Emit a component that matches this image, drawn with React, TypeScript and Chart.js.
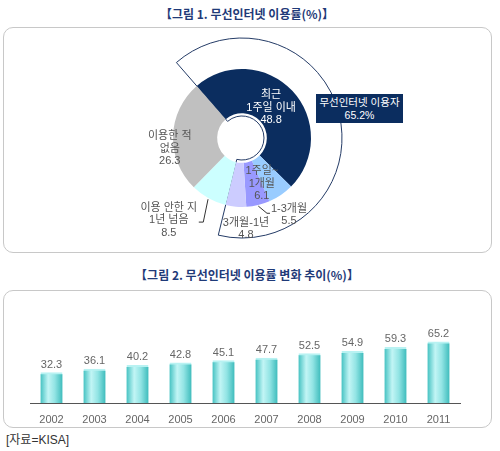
import { useEffect, useRef } from 'react';
import { Chart, registerables } from 'chart.js';

Chart.register(...registerables);

// figure 1: wireless internet usage share (%)
const usageLabels = [
  ['최근', '1주일 이내'],
  ['1주일~', '1개월'],
  ['1-3개월'],
  ['3개월-1년'],
  ['이용 안한 지', '1년 넘음'],
  ['이용한 적', '없음'],
];
const usageValues = [48.8, 6.1, 5.5, 4.8, 8.5, 26.3];
const usageColors = ['#0b2d5f', '#99ccff', '#9999ff', '#ccccff', '#ccffff', '#c0c0c0'];
const userSliceCount = 4; // first four slices = wireless internet users

// figure 2: usage rate by year (%)
const years = ['2002', '2003', '2004', '2005', '2006', '2007', '2008', '2009', '2010', '2011'];
const rates = [32.3, 36.1, 40.2, 42.8, 45.1, 47.7, 52.5, 54.9, 59.3, 65.2];

const usersTotal = usageValues.slice(0, userSliceCount).reduce((a, b) => a + b, 0);

const FONT = '"Liberation Sans", "Noto Sans CJK KR", sans-serif';
const KFONT = '"Noto Sans CJK KR", sans-serif';

// label placement: radius from centre, angle shift (deg) from slice middle, optional leader
const labelPlace: { r: number; da: number; leader?: number[][] }[] = [
  { r: 42, da: -3 },
  { r: 50, da: 11 },
  { r: 90, da: -18, leader: [[-22, -1.5], [-19, -1.5]] },
  { r: 91, da: -7.6 },
  { r: 110, da: 12.7, leader: [[34.5, 2], [30, 2]] },
  { r: 73, da: -10 },
];

const sliceText = {
  id: 'sliceText',
  afterDatasetsDraw(chart: any) {
    const { ctx } = chart;
    const arcs = chart.getDatasetMeta(0).data;
    ctx.save();
    ctx.font = `11px ${FONT}`;
    ctx.textAlign = 'center';
    ctx.textBaseline = 'middle';
    arcs.forEach((arc: any, i: number) => {
      const { x, y, startAngle, endAngle, outerRadius } = arc.getProps(
        ['x', 'y', 'startAngle', 'endAngle', 'outerRadius'],
        true
      );
      const p = labelPlace[i];
      const mid = (startAngle + endAngle) / 2;
      const a = mid + (p.da * Math.PI) / 180;
      const cx = x + p.r * Math.cos(a);
      const cy = y + p.r * Math.sin(a);
      const lines = [...usageLabels[i], usageValues[i].toFixed(1)];
      ctx.fillStyle = i === 0 ? '#ffffff' : '#555555';
      lines.forEach((t, k) => ctx.fillText(t, cx, cy + (k - (lines.length - 1) / 2) * 12.5));
      if (p.leader) {
        ctx.beginPath();
        ctx.moveTo(x + (outerRadius + 1) * Math.cos(mid), y + (outerRadius + 1) * Math.sin(mid));
        p.leader.forEach(([dx, dy]) => ctx.lineTo(cx + dx, cy + dy));
        ctx.strokeStyle = '#333333';
        ctx.lineWidth = 1;
        ctx.stroke();
      }
    });
    ctx.restore();
  },
};

const barValues = {
  id: 'barValues',
  afterDatasetsDraw(chart: any) {
    const { ctx } = chart;
    ctx.save();
    ctx.font = `11px ${FONT}`;
    ctx.fillStyle = '#666666';
    ctx.textAlign = 'center';
    ctx.textBaseline = 'middle';
    chart.getDatasetMeta(0).data.forEach((bar: any, i: number) => {
      ctx.fillText(rates[i].toFixed(1), bar.x, bar.y - 8);
    });
    ctx.restore();
  },
};

const BAR_W = 22;

function barFill(context: any) {
  const chart = context.chart;
  const xScale = chart.scales && chart.scales.x;
  if (!xScale || context.dataIndex === undefined) return '#7fdcdc';
  const xc = xScale.getPixelForValue(context.dataIndex);
  if (!Number.isFinite(xc)) return '#7fdcdc';
  const g = chart.ctx.createLinearGradient(xc - BAR_W / 2, 0, xc + BAR_W / 2, 0);
  g.addColorStop(0, '#45c2c2');
  g.addColorStop(0.35, '#c2f5f5');
  g.addColorStop(0.65, '#92e4e4');
  g.addColorStop(1, '#3ebcbc');
  return g;
}

function UsageDonut() {
  const backRef = useRef<HTMLCanvasElement>(null);
  const frontRef = useRef<HTMLCanvasElement>(null);

  useEffect(() => {
    if (!backRef.current || !frontRef.current) return;
    const back = new Chart(backRef.current, {
      type: 'doughnut',
      data: {
        labels: ['users', 'others'],
        datasets: [
          {
            data: [usersTotal, 100 - usersTotal],
            backgroundColor: ['#ffffff', 'rgba(0,0,0,0)'],
            borderColor: ['#243b66', 'rgba(0,0,0,0)'],
            borderWidth: 1,
          },
        ],
      },
      options: {
        animation: false,
        responsive: false,
        events: [],
        rotation: -41,
        radius: 100,
        cutout: '22%',
        plugins: { legend: { display: false }, tooltip: { enabled: false } },
      },
    });
    const front = new Chart(frontRef.current, {
      type: 'doughnut',
      data: {
        labels: usageLabels.map((l) => l.join(' ')),
        datasets: [{ data: usageValues, backgroundColor: usageColors, borderWidth: 0 }],
      },
      options: {
        animation: false,
        responsive: false,
        events: [],
        rotation: -41,
        radius: 69,
        cutout: '36%',
        plugins: { legend: { display: false }, tooltip: { enabled: false } },
      },
      plugins: [sliceText],
    });
    return () => {
      back.destroy();
      front.destroy();
    };
  }, []);

  const pos = { position: 'absolute' as const, left: 2, top: 28, width: 480, height: 220 };
  return (
    <>
      <canvas ref={backRef} width={480} height={220} style={pos} />
      <canvas ref={frontRef} width={480} height={220} style={pos} />
      <div
        style={{
          position: 'absolute',
          left: 316,
          top: 94,
          width: 87,
          height: 29,
          background: '#0b2d5f',
          color: '#ffffff',
          fontFamily: FONT,
          fontSize: 10.5,
          lineHeight: '12.5px',
          textAlign: 'center',
          paddingTop: 2,
          boxSizing: 'border-box',
        }}
      >
        무선인터넷 이용자
        <br />
        {usersTotal.toFixed(1)}%
      </div>
    </>
  );
}

function TrendBars() {
  const ref = useRef<HTMLCanvasElement>(null);

  useEffect(() => {
    if (!ref.current) return;
    const chart = new Chart(ref.current, {
      type: 'bar',
      data: {
        labels: years,
        datasets: [
          {
            data: rates,
            backgroundColor: barFill,
            borderColor: '#b8f2f2',
            borderWidth: { top: 2, left: 0, right: 0, bottom: 0 },
            barThickness: BAR_W,
          },
        ],
      },
      options: {
        animation: false,
        responsive: false,
        events: [],
        layout: { padding: { left: 30, right: 30, top: 14, bottom: 0 } },
        plugins: { legend: { display: false }, tooltip: { enabled: false } },
        scales: {
          x: {
            grid: { display: false, drawTicks: false },
            border: { display: true, color: '#555555', width: 1 },
            ticks: { padding: 10, color: '#666666', font: { size: 11, family: FONT } },
            afterFit: (s: any) => {
              s.height = 24;
            },
          },
          y: { display: false, min: 0, max: 100 },
        },
      },
      plugins: [barValues],
    });
    return () => chart.destroy();
  }, []);

  return (
    <canvas
      ref={ref}
      width={490}
      height={132}
      style={{ position: 'absolute', left: 0, top: 295, width: 490, height: 132 }}
    />
  );
}

const titleStyle = {
  position: 'absolute' as const,
  left: 0,
  width: 494,
  textAlign: 'center' as const,
  fontFamily: KFONT,
  fontWeight: 700,
  fontSize: 12,
  lineHeight: '16px',
  color: '#1f3a78',
};

const boxStyle = {
  position: 'absolute' as const,
  left: 3,
  width: 489,
  border: '1px solid #c8c8c8',
  borderRadius: 10,
  boxSizing: 'border-box' as const,
};

export default function App() {
  return (
    <div
      style={{
        position: 'absolute',
        left: 0,
        top: 0,
        width: 500,
        height: 451,
        background: '#ffffff',
        overflow: 'hidden',
      }}
    >
      <div style={{ ...titleStyle, top: 6 }}>【그림 1. 무선인터넷 이용률(%)】</div>
      <div style={{ ...boxStyle, top: 27, height: 226 }} />
      <UsageDonut />
      <div style={{ ...titleStyle, top: 267 }}>【그림 2. 무선인터넷 이용률 변화 추이(%)】</div>
      <div style={{ ...boxStyle, top: 290, height: 138 }} />
      <TrendBars />
      <div
        style={{
          position: 'absolute',
          left: 6,
          top: 432,
          fontFamily: FONT,
          fontSize: 12,
          lineHeight: '16px',
          color: '#333333',
        }}
      >
        [자료=KISA]
      </div>
    </div>
  );
}
